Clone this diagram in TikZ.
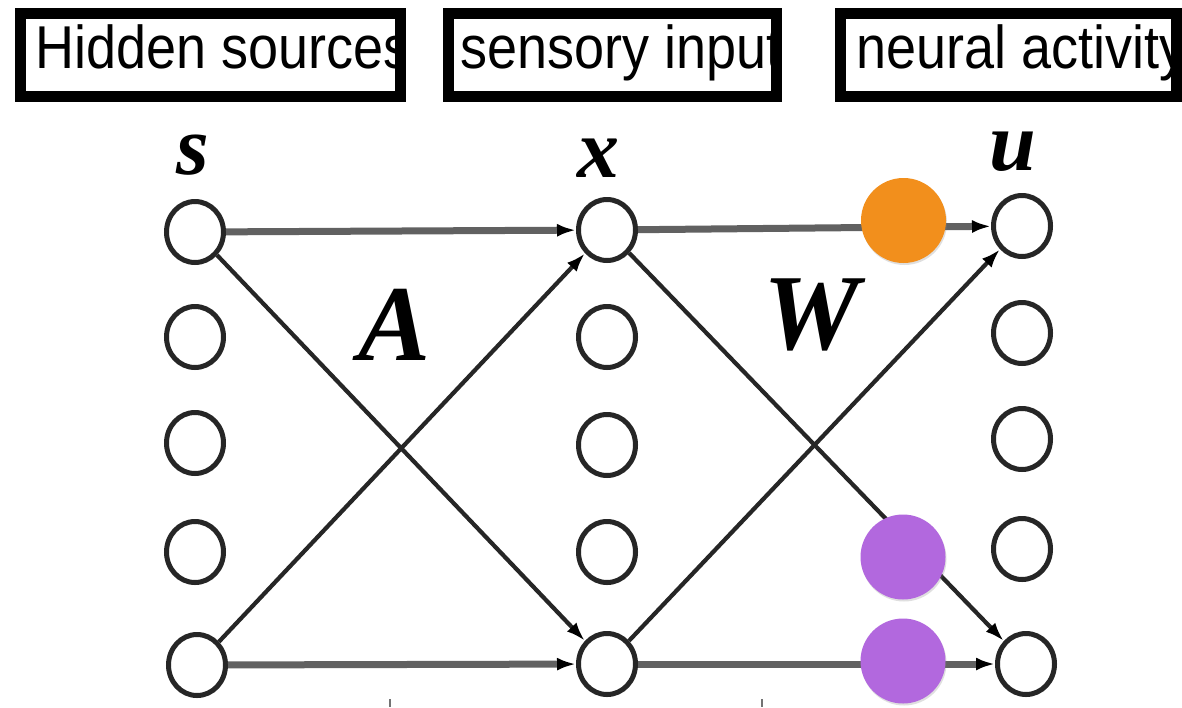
\documentclass[tikz,border=0pt]{standalone}
\usepackage{fontspec}
\usepackage{graphicx}
\setmainfont{Liberation Serif}
\newfontfamily\labelsans{Liberation Sans}
\usetikzlibrary{arrows.meta,shapes.geometric,shadows}
\definecolor{dotorange}{RGB}{242,143,28}
\definecolor{dotpurple}{RGB}{178,104,222}
\newcommand{\tallbox}[1]{\scalebox{1}[1.12]{#1}}
\begin{document}
\begin{tikzpicture}[x=1pt,y=-1pt,
 unit/.style={draw=black!85, line width=5pt, ellipse, minimum width=57pt, minimum height=61pt, inner sep=0pt},
 conn/.style={draw=black!85, line width=4.2pt, -{Latex[length=19pt,width=13pt,color=black]}},
 hconn/.style={conn, draw=black!62, line width=7pt},
 varlab/.style={inner sep=0pt, font=\fontsize{84}{90}\selectfont\bfseries\itshape},
 matlab/.style={inner sep=0pt, font=\fontsize{108}{120}\selectfont\bfseries\itshape},
 title/.style={anchor=base west, inner sep=0pt, font=\labelsans\fontsize{54}{60}\selectfont},
 frame/.style={draw=black, line width=11pt},
 dot/.style={circle, minimum size=85pt, inner sep=0pt, drop shadow={opacity=0.25, shadow xshift=1pt, shadow yshift=-2pt}}
]
\fill[white] (0,0) rectangle (1182,707);
\useasboundingbox (0,0) rectangle (1182,707);

% title boxes
\begin{scope}
\clip (26,19) rectangle (395,91);
\node[title] (t1) at (35,68) {\tallbox{Hidden sources}};
\end{scope}
\draw[frame] (20.5,13.5) rectangle (400.5,96.5);
\begin{scope}
\clip (453,19) rectangle (770,91);
\node[title] (t2) at (460,68) {\tallbox{sensory input}};
\end{scope}
\draw[frame] (448.5,13.5) rectangle (776.5,96.5);
\begin{scope}
\clip (846,19) rectangle (1171,91);
\node[title] (t3) at (856,68) {\tallbox{neural activity}};
\end{scope}
\draw[frame] (840.5,13.5) rectangle (1176.5,96.5);

% units
\node[unit] (s1) at (195,232) {};
\node[unit] (s2) at (195,337) {};
\node[unit] (s3) at (195,443) {};
\node[unit] (s4) at (195,552) {};
\node[unit] (s5) at (197,665) {};
\node[unit] (x1) at (607,230) {};
\node[unit] (x2) at (607,337) {};
\node[unit] (x3) at (607,445) {};
\node[unit] (x4) at (607,552) {};
\node[unit] (x5) at (607,664) {};
\node[unit] (u1) at (1022,226) {};
\node[unit] (u2) at (1022,333) {};
\node[unit] (u3) at (1022,439) {};
\node[unit] (u4) at (1022,549) {};
\node[unit] (u5) at (1026,664) {};

% labels
\node[varlab] (ls) at (193,155) {s};
\node[varlab] (lx) at (598,158) {x};
\node[varlab] (lu) at (1013,152) {u};
\node[matlab] (lA) at (395,325) {A};
\node[matlab] (lW) at (812,315) {W};

% connectors
\draw[hconn] (s1) -- (x1);
\draw[hconn] (s5) -- (x5);
\draw[conn] (s1) -- (x5);
\draw[conn] (s5) -- (x1);
\draw[hconn] (x1) -- (u1);
\draw[hconn] (x5) -- (u5);
\draw[conn] (x1) -- (u5);
\draw[conn] (x5) -- (u1);

% highlighted dots
\node[dot, fill=dotorange] (o1) at (903.5,220.5) {};
\node[dot, fill=dotpurple] (p1) at (903,557) {};
\node[dot, fill=dotpurple] (p2) at (903,661) {};

% cropped fragments at the bottom edge
\draw[black!55, line width=2pt] (390,699) -- (390,707);
\draw[black!55, line width=2pt] (762,699) -- (762,707);
\end{tikzpicture}
\end{document}
